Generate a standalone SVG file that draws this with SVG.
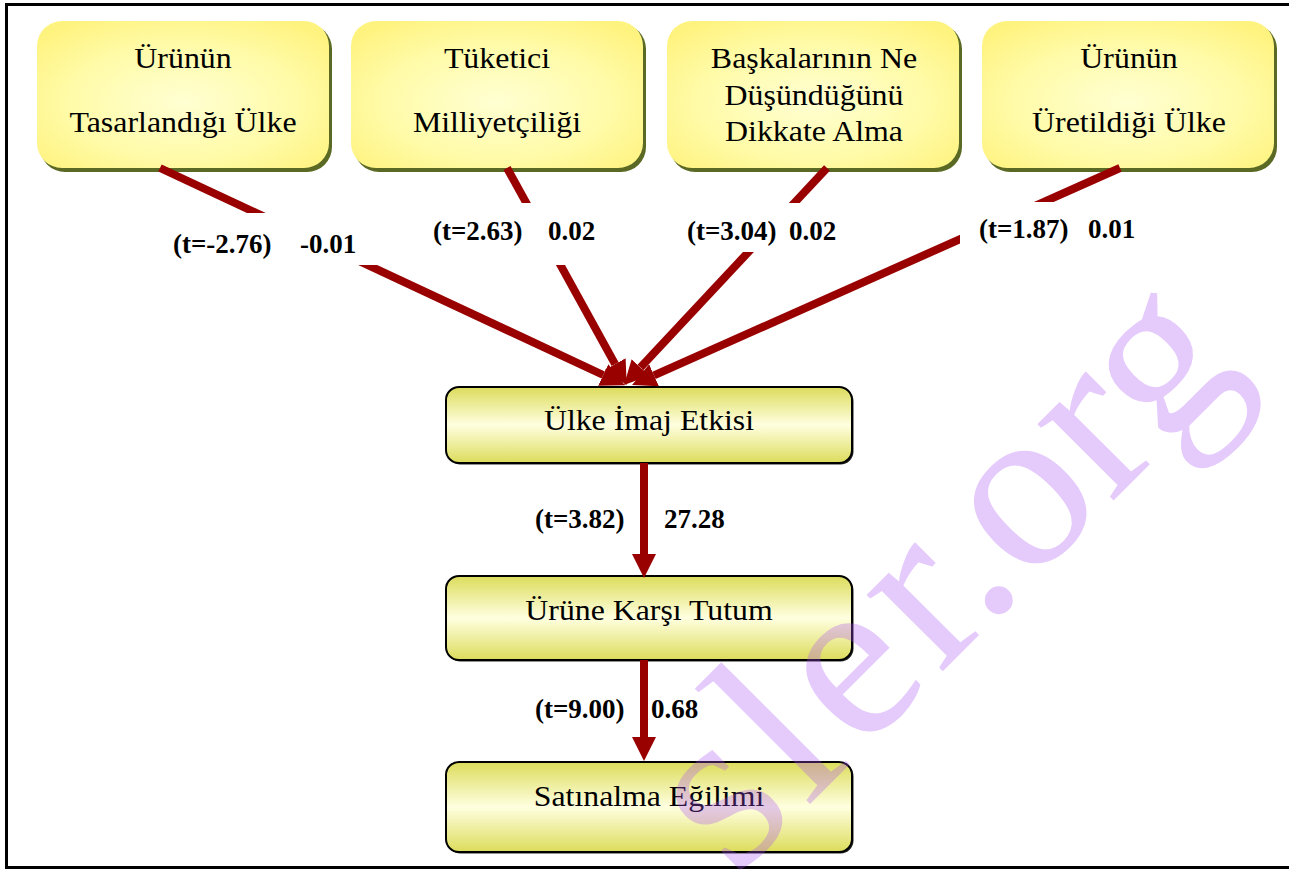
<svg xmlns="http://www.w3.org/2000/svg" width="1289" height="871" viewBox="0 0 1289 871">
<defs>
<radialGradient id="gTop" cx="50%" cy="55%" r="65%">
<stop offset="0" stop-color="#ffffd2"/>
<stop offset="0.6" stop-color="#fffba8"/>
<stop offset="1" stop-color="#fff380"/>
</radialGradient>
<linearGradient id="gMid" x1="0" y1="0" x2="0" y2="1">
<stop offset="0" stop-color="#dcdc5c"/>
<stop offset="0.5" stop-color="#ffffe0"/>
<stop offset="1" stop-color="#dcdc5c"/>
</linearGradient>
<marker id="ah" markerUnits="userSpaceOnUse" viewBox="0 0 24 24" refX="0" refY="12" markerWidth="24" markerHeight="24" orient="auto">
<path d="M0,0 L24,12 L0,24 z" fill="#990000"/>
</marker>
<style>
.frame{fill:none;stroke:#000;stroke-width:3}
.tshadow{fill:#5a6a25}
.tbox{fill:url(#gTop)}
.mshadow{fill:#222}
.mbox{fill:url(#gMid);stroke:#000;stroke-width:2}
.bt{font-family:"Liberation Serif","Times New Roman",serif;font-size:29px;fill:#000;text-anchor:middle}
.mt{font-family:"Liberation Serif","Times New Roman",serif;font-size:30px;fill:#000;text-anchor:middle}
.conn{stroke:#990000;stroke-width:8;fill:none;marker-end:url(#ah)}
.lbl{font-family:"Liberation Serif","Times New Roman",serif;font-size:27px;font-weight:bold;fill:#000}
.lblbg{fill:#fff}
.wm{font-family:"Liberation Serif","Times New Roman",serif;font-size:235px;fill:#aa50f5;fill-opacity:0.3}
</style>
</defs>
<rect width="1289" height="871" fill="#fff"/>
<path class="frame" d="M1290,4.5 H6.5 V867.5 H1290"/>

<g id="node-tasarlandigi">
<rect class="tshadow" x="40" y="24" width="292" height="148" rx="25"/>
<rect class="tbox" x="37" y="21" width="292" height="147" rx="25"/>
<g transform="translate(183,0) scale(1.1,1)">
<text class="bt" x="0" y="68">Ürünün</text>
<text class="bt" x="0" y="132">Tasarlandığı Ülke</text>
</g>
</g>
<g id="node-tuketici">
<rect class="tshadow" x="354" y="24" width="292" height="148" rx="25"/>
<rect class="tbox" x="351" y="21" width="292" height="147" rx="25"/>
<g transform="translate(497,0) scale(1.1,1)">
<text class="bt" x="0" y="68">Tüketici</text>
<text class="bt" x="0" y="132">Milliyetçiliği</text>
</g>
</g>
<g id="node-baskalari">
<rect class="tshadow" x="670" y="24" width="292" height="148" rx="25"/>
<rect class="tbox" x="667" y="21" width="292" height="147" rx="25"/>
<g transform="translate(814,0) scale(1.1,1)">
<text class="bt" x="0" y="68">Başkalarının Ne</text>
<text class="bt" x="0" y="105">Düşündüğünü</text>
<text class="bt" x="0" y="141">Dikkate Alma</text>
</g>
</g>
<g id="node-uretildigi">
<rect class="tshadow" x="985" y="24" width="292" height="148" rx="25"/>
<rect class="tbox" x="982" y="21" width="292" height="147" rx="25"/>
<g transform="translate(1129,0) scale(1.1,1)">
<text class="bt" x="0" y="68">Ürünün</text>
<text class="bt" x="0" y="132">Üretildiği Ülke</text>
</g>
</g>

<g id="node-ulke-imaj">
<rect class="mshadow" x="447.5" y="388.5" width="406" height="76" rx="13"/>
<rect class="mbox" x="446" y="387" width="406" height="76" rx="13"/>
<text class="mt" transform="translate(649,430) scale(1.06,1)">Ülke İmaj Etkisi</text>
</g>
<g id="node-urune-karsi">
<rect class="mshadow" x="447.5" y="577.5" width="406" height="84" rx="13"/>
<rect class="mbox" x="446" y="576" width="406" height="84" rx="13"/>
<text class="mt" transform="translate(649,620) scale(1.06,1)">Ürüne Karşı Tutum</text>
</g>
<g id="node-satinalma">
<rect class="mshadow" x="447.5" y="763.5" width="406" height="90" rx="13"/>
<rect class="mbox" x="446" y="762" width="406" height="90" rx="13"/>
<text class="mt" transform="translate(649,806) scale(1.06,1)">Satınalma Eğilimi</text>
</g>

<g id="connectors">
<path class="conn" d="M160,168 L603.2,375"/>
<path class="conn" d="M507,168 L615.1,364.1"/>
<path class="conn" d="M827,168 L640.4,367.5"/>
<path class="conn" d="M1120,168 L654,375.3"/>
<path class="conn" d="M644,463 L644,554"/>
<path class="conn" d="M644,660 L644,737"/>
</g>

<g id="labels">
<rect class="lblbg" x="160" y="213" width="222" height="52"/>
<text class="lbl" x="173" y="253">(t=-2.76)</text>
<text class="lbl" x="300" y="253">-0.01</text>
<rect class="lblbg" x="420" y="203" width="190" height="62"/>
<text class="lbl" x="433" y="240">(t=2.63)</text>
<text class="lbl" x="548" y="240">0.02</text>
<rect class="lblbg" x="675" y="203" width="170" height="49"/>
<text class="lbl" x="687" y="240">(t=3.04)</text>
<text class="lbl" x="789" y="240">0.02</text>
<rect class="lblbg" x="960" y="202" width="180" height="60"/>
<text class="lbl" x="979" y="238">(t=1.87)</text>
<text class="lbl" x="1088" y="238">0.01</text>
<text class="lbl" x="535" y="528">(t=3.82)</text>
<text class="lbl" x="664" y="528">27.28</text>
<text class="lbl" x="535" y="718">(t=9.00)</text>
<text class="lbl" x="651" y="718">0.68</text>
</g>

<text class="wm" transform="translate(735,879) rotate(-45)">s<tspan dx="10">l</tspan><tspan dx="10">e</tspan><tspan dx="8">r.org</tspan></text>
</svg>
